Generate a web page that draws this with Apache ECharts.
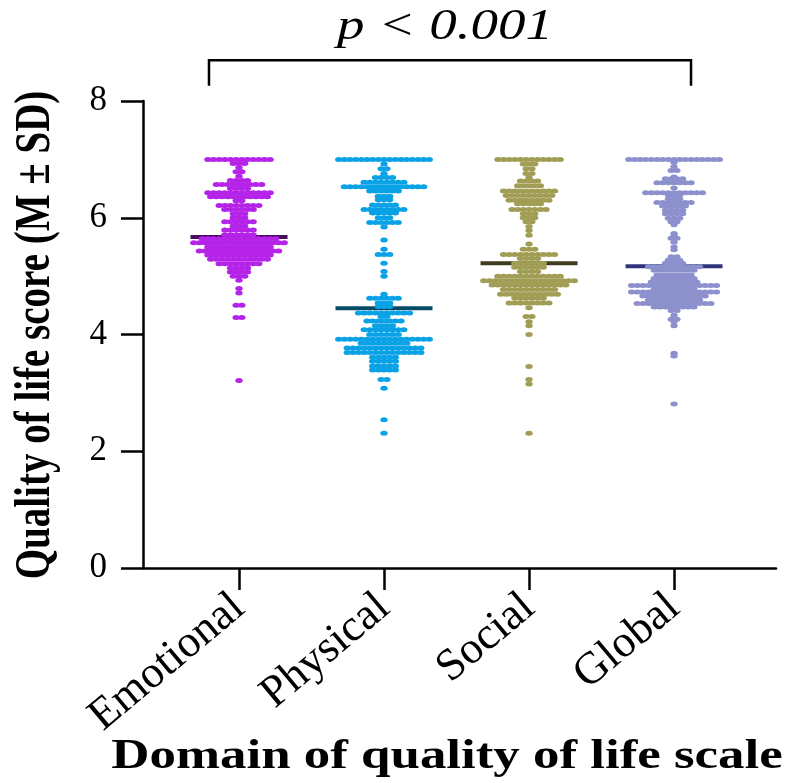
<!DOCTYPE html>
<html>
<head>
<meta charset="utf-8">
<script src="https://cdn.jsdelivr.net/npm/echarts@6/dist/echarts.min.js"></script>
<style>
  html, body { margin: 0; padding: 0; background: #fff; }
  #chart { width: 804px; height: 783px; }
</style>
</head>
<body>
<div id="chart"></div>
<script>
const categories = ['Emotional', 'Physical', 'Social', 'Global'];
const means = [5.67, 4.45, 5.22, 5.17];

const emotionalScores = [7.0, 6.93, 6.86, 6.79, 6.71, 6.64, 6.57, 6.5, 6.43, 6.36, 6.29, 6.21, 6.14, 6.07, 6.0, 5.93, 5.86, 5.79, 5.71, 5.64, 5.57, 5.5, 5.43, 5.36, 5.29, 5.21, 5.14, 5.07, 5.0, 4.93, 4.79, 4.71, 4.5, 4.29, 3.21];
const emotionalCounts = [12, 3, 1, 2, 1, 4, 9, 4, 12, 11, 2, 8, 6, 3, 3, 6, 3, 6, 6, 14, 17, 12, 15, 12, 11, 8, 4, 4, 3, 1, 1, 1, 2, 2, 1];

const physicalScores = [7.0, 6.92, 6.84, 6.76, 6.69, 6.61, 6.53, 6.46, 6.37, 6.31, 6.22, 6.14, 6.08, 6.0, 5.92, 5.84, 5.62, 5.46, 5.37, 5.22, 5.08, 5.0, 4.69, 4.62, 4.54, 4.48, 4.37, 4.31, 4.23, 4.15, 4.08, 4.0, 3.92, 3.85, 3.77, 3.69, 3.61, 3.54, 3.46, 3.39, 3.23, 3.08, 2.54, 2.31];
const physicalCounts = [17, 1, 2, 1, 4, 8, 15, 6, 3, 3, 5, 8, 5, 3, 6, 1, 1, 1, 3, 1, 1, 1, 1, 6, 3, 3, 10, 2, 7, 4, 8, 6, 17, 9, 14, 14, 5, 5, 5, 5, 2, 1, 1, 1];

const socialScores = [7.0, 6.92, 6.84, 6.76, 6.69, 6.63, 6.55, 6.46, 6.38, 6.30, 6.24, 6.14, 6.07, 6.0, 5.93, 5.85, 5.78, 5.70, 5.55, 5.46, 5.37, 5.30, 5.22, 5.15, 5.08, 5.0, 4.92, 4.85, 4.77, 4.69, 4.62, 4.54, 4.46, 4.31, 4.22, 4.15, 4.0, 3.45, 3.23, 3.15, 2.31];
const socialCounts = [12, 3, 2, 2, 1, 4, 5, 10, 9, 8, 5, 7, 3, 3, 2, 1, 1, 1, 1, 3, 10, 4, 6, 6, 4, 12, 17, 14, 10, 11, 6, 8, 1, 2, 1, 1, 1, 1, 1, 1, 1];

const globalScores = [7.0, 6.95, 6.88, 6.81, 6.70, 6.67, 6.60, 6.51, 6.43, 6.39, 6.32, 6.26, 6.20, 6.13, 6.07, 5.99, 5.93, 5.88, 5.73, 5.69, 5.65, 5.58, 5.50, 5.45, 5.33, 5.27, 5.22, 5.16, 5.10, 5.02, 4.96, 4.90, 4.84, 4.78, 4.73, 4.66, 4.59, 4.53, 4.47, 4.41, 4.33, 4.26, 4.22, 4.15, 3.68, 3.63, 2.81];
const globalCounts = [17, 1, 1, 2, 1, 4, 7, 1, 11, 3, 3, 7, 5, 4, 4, 3, 2, 1, 1, 1, 2, 1, 1, 1, 2, 3, 4, 10, 8, 7, 8, 9, 16, 8, 16, 12, 10, 14, 8, 2, 1, 2, 1, 1, 1, 1, 1];

const dotColors = ['#b623e8', '#0aa2e6', '#a19d55', '#8c91cd'];
const meanColors = ['#4a0c5c', '#044a66', '#3f3c20', '#2f347c'];

const FONT = 'Liberation Serif';
const step = 0.039; // gap between neighbouring dots, in category units

function swarm(idx, scores, counts) {
  const pts = [];
  scores.forEach((v, r) => {
    const n = counts[r];
    for (let j = 0; j < n; j++) {
      pts.push([idx + (j - (n - 1) / 2) * step, v]);
    }
  });
  return pts;
}

const groups = [
  swarm(0, emotionalScores, emotionalCounts),
  swarm(1, physicalScores, physicalCounts),
  swarm(2, socialScores, socialCounts),
  swarm(3, globalScores, globalCounts),
];

const chart = echarts.init(document.getElementById('chart'));

const axisLine = { show: true, onZero: false, lineStyle: { color: '#000', width: 2.5 } };
const axisTick = { show: true, length: 22, lineStyle: { color: '#000', width: 2.5 } };

chart.setOption({
  animation: false,
  backgroundColor: '#fff',
  grid: { left: 143, right: 28, top: 101, bottom: 215 },
  xAxis: {
    type: 'value',
    min: -0.662,
    max: 3.703,
    splitLine: { show: false },
    axisLine: axisLine,
    axisTick: Object.assign({ customValues: [0, 1, 2, 3] }, axisTick),
    axisLabel: {
      customValues: [0, 1, 2, 3],
      formatter: v => categories[Math.round(v)],
      rotate: 40,
      margin: 34,
      color: '#000',
      fontFamily: FONT,
      fontSize: 45,
    },
  },
  yAxis: {
    type: 'value',
    min: 0,
    max: 8,
    interval: 2,
    splitLine: { show: false },
    axisLine: axisLine,
    axisTick: axisTick,
    axisLabel: { margin: 36, color: '#000', fontFamily: FONT, fontSize: 35 },
  },
  series: [
    {
      type: 'custom',
      z: 2,
      data: means.map((m, i) => [i, m, i]),
      encode: { x: 0, y: 1 },
      renderItem: (params, api) => {
        const c = api.coord([api.value(0), api.value(1)]);
        return {
          type: 'rect',
          shape: { x: c[0] - 48.5, y: c[1] - 2, width: 97, height: 4 },
          style: { fill: meanColors[api.value(2)] },
        };
      },
    },
  ].concat(groups.map((pts, i) => ({
    type: 'scatter',
    name: categories[i],
    z: 3,
    symbol: 'circle',
    symbolSize: [7.4, 5],
    itemStyle: { color: dotColors[i], opacity: 1 },
    data: pts,
  }))),
});

// significance bracket above the groups, placed through the axes
const pL = chart.convertToPixel({ gridIndex: 0 }, [-0.207, 8.26]);
const pT = chart.convertToPixel({ gridIndex: 0 }, [3.117, 8.70]);

chart.setOption({
  graphic: [
    {
      type: 'polyline',
      shape: { points: [[pL[0], pL[1]], [pL[0], pT[1]], [pT[0], pT[1]], [pT[0], pL[1]]] },
      style: { stroke: '#000', lineWidth: 2.5, fill: null },
    },
    {
      type: 'text',
      x: 445, y: 27,
      scaleX: 1.25,
      style: {
        text: 'p < 0.001', fontFamily: FONT, fontStyle: 'italic', fontSize: 44,
        fill: '#000', align: 'center', verticalAlign: 'middle',
        textAlign: 'center', textVerticalAlign: 'middle',
      },
    },
    {
      type: 'text',
      x: 36, y: 335,
      rotation: Math.PI / 2,
      scaleY: 1.3,
      style: {
        text: 'Quality of life score (M ± SD)', fontFamily: FONT, fontWeight: 'bold', fontSize: 39,
        fill: '#000', align: 'center', verticalAlign: 'middle',
        textAlign: 'center', textVerticalAlign: 'middle',
      },
    },
    {
      type: 'text',
      x: 447, y: 757,
      scaleX: 1.23,
      style: {
        text: 'Domain of quality of life scale', fontFamily: FONT, fontWeight: 'bold', fontSize: 43,
        fill: '#000', align: 'center', verticalAlign: 'middle',
        textAlign: 'center', textVerticalAlign: 'middle',
      },
    },
  ],
});
</script>
</body>
</html>
